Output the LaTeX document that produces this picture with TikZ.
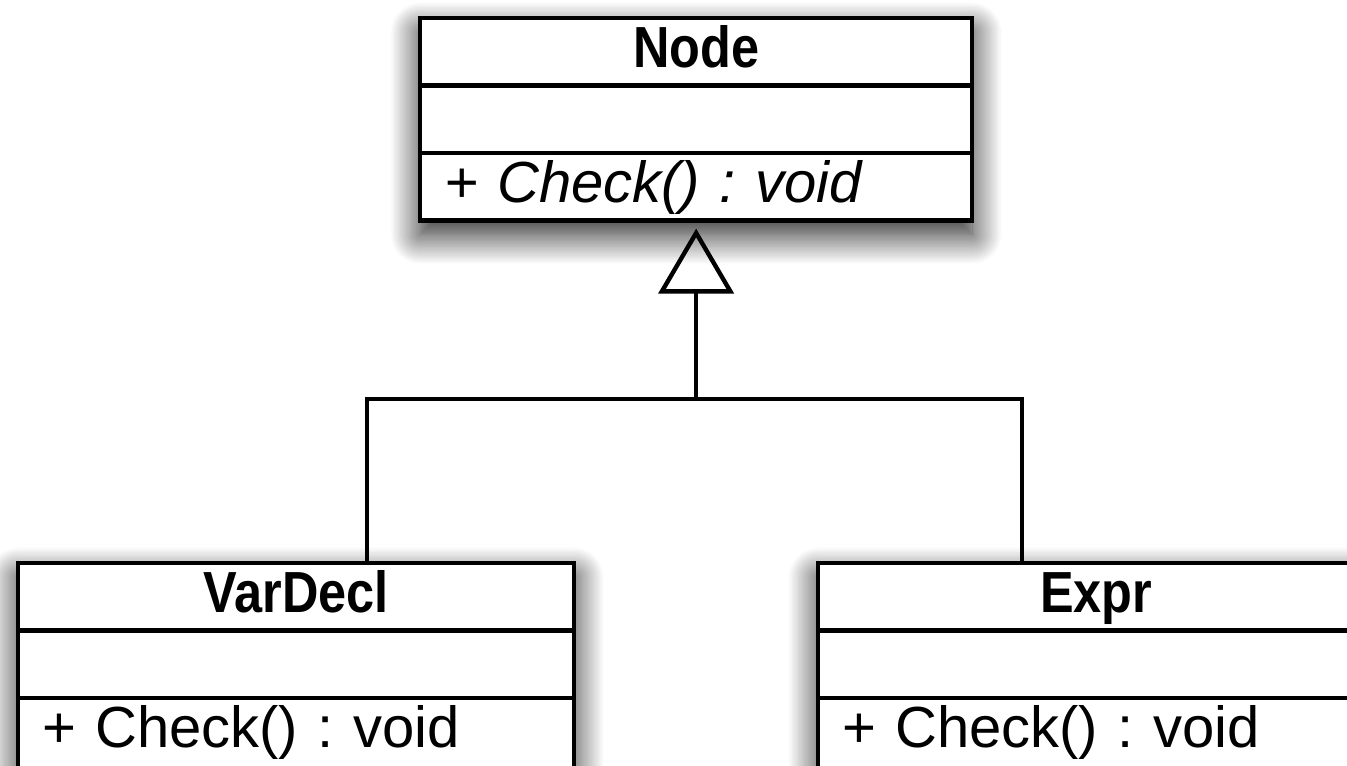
\documentclass[tikz,border=0pt]{standalone}
\usepackage{fontspec}
\setmainfont{Liberation Sans}
\newfontfamily\umlbold[FakeStretch=0.87]{Liberation Sans}
\usetikzlibrary{positioning,arrows.meta,calc,shapes.multipart,shadows.blur}
\newcommand{\partstrut}{\noindent\rule[-0.32cm]{0pt}{1.26cm}}
\newcommand{\umlname}[1]{\partstrut{\umlbold\bfseries\fontsize{33}{40}\selectfont #1}}
\tikzset{umlclass/.style={
    rectangle split, rectangle split parts=3,
    draw, line width=2.5pt, fill=white,
    text width=#1, inner xsep=0.48cm, inner ysep=0pt,
    anchor=north west, font=\fontsize{33}{40}\selectfont\frenchspacing,
    blur shadow={shadow xshift=0pt, shadow yshift=-0.28cm,
        shadow blur radius=0.6cm, shadow blur steps=25,
        shadow opacity=90}
    },
    inherit/.style={line width=2.5pt, shorten >=0.12cm,
        -{Triangle[open,length=1.3cm,width=1.5cm]}},
    link/.style={line width=2.5pt}
}

\begin{document}
\begin{tikzpicture}[x=0.02cm,y=-0.02cm]
	\useasboundingbox (0,0) rectangle (1347,765);
	\clip (0,0) rectangle (1347,765);
	\node[umlclass=10.08cm] (Node) at (418,16)
		{\centering\umlname{Node}\par
		 \nodepart{second}\partstrut
		 \nodepart{third}\partstrut\textit{+ Check() : void}};
	\node[umlclass=10.16cm] (VarDecl) at (16,561)
		{\centering\umlname{VarDecl}\par
		 \nodepart{second}\partstrut
		 \nodepart{third}\partstrut\rule[-0.6cm]{0pt}{0pt}+ Check() : void};
	\node[umlclass=10.16cm] (Expr) at (816,561)
		{\centering\umlname{Expr}\par
		 \nodepart{second}\partstrut
		 \nodepart{third}\partstrut\rule[-0.6cm]{0pt}{0pt}+ Check() : void};
	\coordinate (fork) at (Node.south |- 0,399);
	\coordinate (vdtop) at ($(VarDecl.north west)+(351,0)$);
	\coordinate (extop) at ($(Expr.north west)+(206,0)$);
	\draw [inherit] (fork) -- (Node.south);
	\draw [link] (vdtop) |- (fork) -| (extop);
\end{tikzpicture}
\end{document}
